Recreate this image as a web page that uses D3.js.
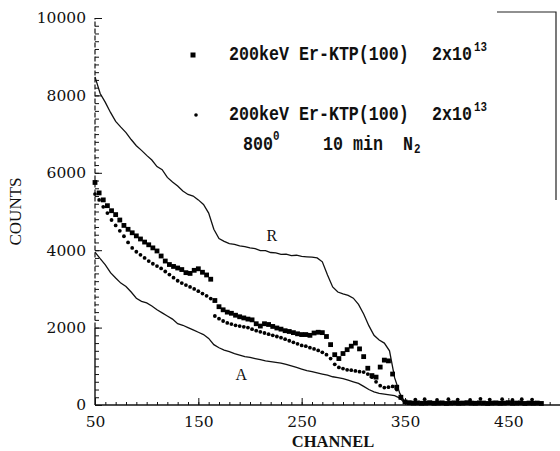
<!DOCTYPE html>
<html>
<head>
<meta charset="utf-8">
<script src="https://cdn.jsdelivr.net/npm/d3@7"></script>
<style>
  body { margin: 0; background: #fff; }
  svg { display: block; }
</style>
</head>
<body>
<svg id="chart"></svg>
<script>
// ---- data ----
const lineChannels = d3.range(50, 356, 5);
const rCounts = [8480, 8050, 7820, 7560, 7330, 7180, 7040, 6860, 6700, 6580,
  6450, 6330, 6160, 6080, 5880, 5760, 5660, 5530, 5440, 5400,
  5300, 5180, 4960, 4540, 4300, 4230, 4170, 4150, 4110, 4090,
  4060, 4040, 3990, 3990, 3940, 3930, 3890, 3900, 3860, 3870,
  3840, 3830, 3820, 3800, 3700, 3360, 3050, 2920, 2870, 2830,
  2760, 2600, 2350, 2050, 1800, 1680, 1600, 1400, 700, 300,
  60, 30];
const aCounts = [3950, 3780, 3620, 3420, 3280, 3150, 3060, 2920, 2760, 2680,
  2640, 2560, 2460, 2380, 2300, 2220, 2100, 2060, 2000, 1940,
  1880, 1820, 1720, 1560, 1480, 1420, 1380, 1330, 1290, 1250,
  1230, 1200, 1170, 1140, 1120, 1100, 1080, 1050, 1010, 970,
  930, 890, 860, 830, 800, 770, 730, 710, 680, 640,
  600, 560, 480, 400, 340, 300, 280, 260, 240, 180,
  40, 20];

const markerChannels = d3.range(50, 347, 4);
const squareCounts = [5750, 5480, 5300, 5150, 5020, 4920, 4780, 4640, 4540, 4450,
  4370, 4290, 4210, 4140, 4060, 3980, 3850, 3720, 3630, 3580,
  3540, 3500, 3420, 3400, 3480, 3520, 3430, 3360, 3250, 2700,
  2540, 2460, 2400, 2370, 2320, 2280, 2250, 2220, 2200, 2100,
  2040, 2100, 2080, 2030, 1990, 1960, 1920, 1900, 1870, 1840,
  1820, 1820, 1800, 1860, 1880, 1870, 1770, 1560, 1300, 1200,
  1330, 1430, 1520, 1600, 1450, 1250, 950, 760, 720, 980,
  1160, 1140, 800, 460, 200];
const dotCounts = [5450, 5300, 5120, 4960, 4780, 4640, 4500, 4360, 4200, 4060,
  3960, 3880, 3800, 3720, 3650, 3590, 3530, 3450, 3370, 3290,
  3210, 3150, 3100, 3050, 3000, 2940, 2880, 2820, 2750, 2300,
  2230, 2170, 2120, 2090, 2060, 2040, 2020, 2000, 1960, 1920,
  1890, 1860, 1830, 1800, 1770, 1740, 1700, 1660, 1620, 1580,
  1540, 1520, 1480, 1450, 1410, 1360, 1300, 1200, 1050, 970,
  940, 910, 900, 880, 860, 850, 800, 720, 600, 500,
  450, 460, 480, 400, 180];

const tailChannels = d3.range(350, 486, 4);
const tailCounts = [80, 60, 50, 55, 45, 50, 60, 45, 50, 55, 40, 50, 55, 45, 50, 60, 50,
  45, 55, 50, 40, 50, 55, 45, 50, 60, 45, 50, 55, 40, 50, 45, 50, 40];
const dotTailChannels = [360, 369, 381, 392, 401, 413, 423, 432, 444, 454, 463, 473];
const dotTailCounts = [140, 150, 130, 150, 140, 130, 160, 140, 150, 130, 150, 140];

const xTicks = [50, 150, 250, 350, 450];
const yTicks = [0, 2000, 4000, 6000, 8000, 10000];

// ---- setup ----
const W = 560, H = 451;
const svg = d3.select('#chart').attr('width', W).attr('height', H);

const xscale = d3.scaleLinear().domain([50, 500]).range([95, 560]);
const yscale = d3.scaleLinear().domain([0, 10000]).range([405, 18]);

const ink = '#111';
const serif = '"DejaVu Serif", serif';

// axes: minor ticks and labelled ticks (all pointing inward)
svg.append('g')
  .attr('transform', `translate(0, ${yscale(0)})`)
  .call(d3.axisBottom(xscale).tickValues(d3.range(50, 501, 10)).tickSize(-3).tickSizeOuter(0).tickFormat(''))
  .call(g => g.select('.domain').remove());
svg.append('g')
  .attr('transform', `translate(0, ${yscale(0)})`)
  .call(d3.axisBottom(xscale).tickValues(xTicks).tickSize(-7).tickSizeOuter(0).tickPadding(11))
  .call(g => g.select('.domain').remove())
  .call(g => g.selectAll('text').attr('font-family', serif).attr('font-size', 15.5).attr('fill', ink));

svg.append('g')
  .attr('transform', `translate(${xscale(50)}, 0)`)
  .call(d3.axisLeft(yscale).tickValues(d3.range(0, 10001, 200)).tickSize(-4).tickSizeOuter(0).tickFormat(''))
  .call(g => g.select('.domain').remove());
svg.append('g')
  .attr('transform', `translate(${xscale(50)}, 0)`)
  .call(d3.axisLeft(yscale).tickValues(yTicks).tickSize(-7).tickSizeOuter(0).tickPadding(9).tickFormat(d3.format('d')))
  .call(g => g.select('.domain').remove())
  .call(g => g.selectAll('text').attr('font-family', serif).attr('font-size', 15.5).attr('fill', ink));

svg.selectAll('.tick line').attr('stroke', ink).attr('stroke-width', 1);

// axis lines (left one is broken up in the scan above ~2000)
svg.append('line')
  .attr('x1', xscale(50)).attr('x2', xscale(500))
  .attr('y1', yscale(0)).attr('y2', yscale(0))
  .attr('stroke', ink).attr('stroke-width', 1.6);
svg.append('line')
  .attr('x1', xscale(50)).attr('x2', xscale(50))
  .attr('y1', yscale(0)).attr('y2', yscale(2000))
  .attr('stroke', ink).attr('stroke-width', 1.4);
svg.append('line')
  .attr('x1', xscale(50)).attr('x2', xscale(50))
  .attr('y1', yscale(2000)).attr('y2', yscale(10000))
  .attr('stroke', ink).attr('stroke-width', 1.2)
  .attr('stroke-dasharray', '5,2');

// scan frame remnants, top right
svg.append('path')
  .attr('d', 'M497,12 H556 V200')
  .attr('fill', 'none').attr('stroke', '#222').attr('stroke-width', 1.2);

// axis titles
svg.append('text')
  .attr('transform', `translate(21, ${yscale(5000)}) rotate(-90)`)
  .attr('text-anchor', 'middle')
  .attr('font-family', '"Liberation Serif", serif')
  .attr('font-size', 17)
  .attr('fill', ink)
  .text('COUNTS');
svg.append('text')
  .attr('x', 333).attr('y', 447)
  .attr('text-anchor', 'middle')
  .attr('font-family', '"Liberation Serif", serif')
  .attr('font-weight', 'bold')
  .attr('font-size', 16.5)
  .attr('fill', ink)
  .text('CHANNEL');

// ---- data marks ----
const line = d3.line()
  .x(d => xscale(d[0]))
  .y(d => yscale(d[1]));

svg.append('path')
  .attr('d', line(d3.zip(lineChannels, rCounts)))
  .attr('fill', 'none').attr('stroke', ink).attr('stroke-width', 1.3);
svg.append('path')
  .attr('d', line(d3.zip(lineChannels, aCounts)))
  .attr('fill', 'none').attr('stroke', ink).attr('stroke-width', 1.3);

const sq = 4.8;
svg.append('g').selectAll('rect')
  .data(d3.zip(markerChannels, squareCounts).concat(d3.zip(tailChannels, tailCounts)))
  .join('rect')
  .attr('x', d => xscale(d[0]) - sq / 2)
  .attr('y', d => yscale(d[1]) - sq / 2)
  .attr('width', sq).attr('height', sq)
  .attr('fill', '#000');

svg.append('g').selectAll('circle')
  .data(d3.zip(markerChannels, dotCounts).concat(d3.zip(dotTailChannels, dotTailCounts)))
  .join('circle')
  .attr('cx', d => xscale(d[0]))
  .attr('cy', d => yscale(d[1]))
  .attr('r', 1.9)
  .attr('fill', '#000');

// curve labels
svg.append('text').attr('x', xscale(216)).attr('y', yscale(4230))
  .attr('font-family', '"Liberation Serif", serif').attr('font-size', 16).attr('fill', ink)
  .text('R');
svg.append('text').attr('x', xscale(186)).attr('y', yscale(640))
  .attr('font-family', '"Liberation Serif", serif').attr('font-size', 16).attr('fill', ink)
  .text('A');

// ---- legend ----
const mono = '"Liberation Mono", monospace';
function legendText(x, y, str, size) {
  svg.append('text')
    .attr('transform', `translate(${x}, ${y}) scale(0.833, 1)`)
    .attr('font-family', mono)
    .attr('font-size', size)
    .attr('font-weight', 'bold')
    .attr('fill', ink)
    .text(str);
}

svg.append('rect').attr('x', 190.5).attr('y', 52.5).attr('width', 5).attr('height', 5).attr('fill', '#000');
legendText(229, 60, '200keV Er-KTP(100)', 20);
legendText(432, 60, '2x10', 20);
legendText(474, 51, '13', 13);

svg.append('circle').attr('cx', 196).attr('cy', 115).attr('r', 1.8).attr('fill', '#000');
legendText(229, 120, '200keV Er-KTP(100)', 20);
legendText(432, 120, '2x10', 20);
legendText(474, 111, '13', 13);

legendText(243, 150, '800', 20);
legendText(273, 140, '0', 13);
legendText(323, 150, '10 min', 20);
legendText(403, 150, 'N', 20);
legendText(414, 153, '2', 13);
</script>
</body>
</html>
